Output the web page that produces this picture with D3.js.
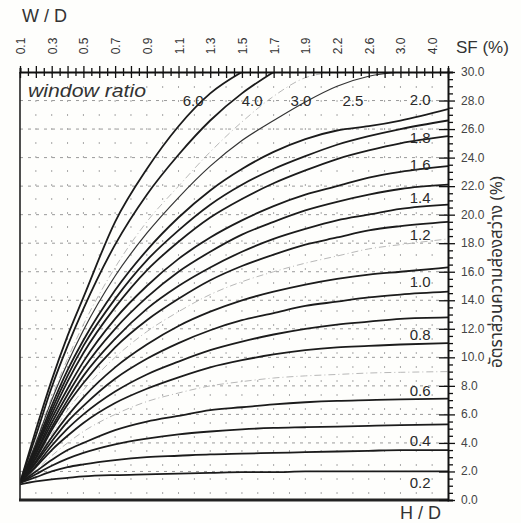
<!DOCTYPE html>
<html><head><meta charset="utf-8">
<script src="https://cdnjs.cloudflare.com/ajax/libs/d3/7.8.5/d3.min.js"></script>
<style>html,body{margin:0;padding:0;background:#fff;} svg{display:block;}</style>
</head><body><svg id="chart" width="521" height="523"></svg>
<script>
// H/D positions (in W/D tick-spacing units) at which each curve was read
const hdSteps = [0, 0.5, 1, 1.5, 2, 3, 4, 5, 6, 7, 8, 9, 10, 11, 12, 13.5];

// Window ratio curves: SF (%) values read at hdSteps
const ratio60 = [1.2, 4.9, 8.4, 11.5, 14.2, 19.5, 23.2, 26.2, 28.5, 30.0];
const ratio40 = [1.2, 4.5, 7.9, 10.8, 13.4, 17.9, 21.4, 24.2, 26.6, 28.5, 30.0];
const ratio30 = [1.2, 4.0, 7.0, 9.6, 11.9, 15.7, 18.7, 21.2, 23.4, 25.2, 26.6, 27.9, 29.0, 29.7, 30.0];
const curveL4 = [1.2, 3.8, 6.6, 9.1, 11.2, 14.7, 17.5, 19.8, 21.7, 23.2, 24.4, 25.3, 25.9, 26.2, 26.6, 27.4];
const curveL5 = [1.2, 3.6, 6.3, 8.7, 10.8, 14.1, 16.8, 18.9, 20.7, 22.1, 23.2, 24.1, 24.9, 25.5, 26.0, 26.6];
const curveL6 = [1.2, 3.5, 6.0, 8.3, 10.3, 13.5, 16.1, 18.1, 19.8, 21.1, 22.2, 23.1, 23.9, 24.5, 25.0, 25.5];
const curveL7 = [1.2, 3.3, 5.7, 7.8, 9.7, 12.7, 15.0, 16.9, 18.4, 19.6, 20.6, 21.4, 22.0, 22.6, 23.0, 23.4];
const curveL8 = [1.2, 3.2, 5.4, 7.4, 9.2, 12.0, 14.2, 16.0, 17.4, 18.6, 19.5, 20.3, 20.9, 21.4, 21.8, 22.1];
const curveL9 = [1.2, 3.0, 5.1, 7.0, 8.7, 11.3, 13.4, 15.0, 16.3, 17.4, 18.3, 19.0, 19.6, 20.0, 20.4, 20.7];
const curveL10 = [1.2, 2.9, 4.9, 6.7, 8.2, 10.7, 12.6, 14.1, 15.4, 16.4, 17.2, 17.9, 18.4, 18.9, 19.2, 19.5];
const curveL11 = [1.2, 2.7, 4.4, 5.9, 7.2, 9.3, 10.9, 12.2, 13.2, 14.0, 14.6, 15.1, 15.5, 15.8, 16.0, 16.3];
const curveL12 = [1.2, 2.6, 4.1, 5.5, 6.6, 8.5, 9.9, 11.0, 11.9, 12.6, 13.1, 13.6, 13.9, 14.2, 14.4, 14.6];
const curveL13 = [1.2, 2.4, 3.8, 5.0, 6.0, 7.6, 8.8, 9.7, 10.5, 11.1, 11.6, 12.0, 12.3, 12.5, 12.7, 12.8];
const curveL14 = [1.2, 2.3, 3.5, 4.5, 5.4, 6.8, 7.8, 8.6, 9.3, 9.8, 10.2, 10.5, 10.7, 10.8, 10.9, 11.0];
const curveL15 = [1.2, 2.0, 2.8, 3.5, 4.0, 4.9, 5.5, 5.9, 6.3, 6.5, 6.7, 6.85, 6.95, 7.0, 7.05, 7.1];
const curveL16 = [1.2, 1.8, 2.4, 2.9, 3.3, 3.9, 4.3, 4.6, 4.8, 4.95, 5.05, 5.1, 5.15, 5.2, 5.25, 5.3];
const curveL17 = [1.2, 1.6, 2.0, 2.3, 2.5, 2.8, 3.0, 3.1, 3.2, 3.25, 3.3, 3.35, 3.4, 3.45, 3.5, 3.5];
const curveL18 = [1.1, 1.3, 1.45, 1.55, 1.65, 1.75, 1.8, 1.85, 1.9, 1.95, 1.95, 2.0, 2.0, 2.0, 2.0, 2.0];

// Faint dash-dot guide curves
const guideA = [1.2, 4.1, 7.2, 9.9, 12.3, 16.3, 19.5, 22.0, 24.4, 26.5, 28.3, 29.6, 30.0];
const guideB = [1.2, 2.8, 4.6, 6.3, 7.7, 10.0, 11.8, 13.2, 14.4, 15.3, 16.0, 16.6, 17.1, 17.6, 17.9, 18.3];
const guideC = [1.2, 2.1, 3.1, 4.0, 4.8, 6.0, 6.9, 7.5, 8.0, 8.3, 8.55, 8.7, 8.8, 8.9, 8.95, 9.0];

// Axis tick labels
const wdLabels = ["0.1","0.3","0.5","0.7","0.9","1.1","1.3","1.5","1.7","1.9","2.2","2.6","3.0","4.0"];
const sfTicks = [0,2,4,6,8,10,12,14,16,18,20,22,24,26,28,30];

// Window ratio annotations (text, H/D position, SF value)
const ratioText = ["6.0","4.0","3.0","2.5","2.0","1.8","1.6","1.4","1.2","1.0","0.8","0.6","0.4","0.2"];
const ratioAtHD = [5.46, 7.32, 8.86, 10.5, 12.62, 12.62, 12.62, 12.62, 12.62, 12.62, 12.62, 12.62, 12.62, 12.62];
const ratioAtSF = [28.0, 28.0, 28.0, 28.0, 28.1, 25.4, 23.5, 21.2, 18.6, 15.3, 11.6, 7.7, 4.2, 1.26];

const thickCurves = [ratio60, ratio40, curveL4, curveL5, curveL6, curveL7, curveL8, curveL9, curveL10,
  curveL11, curveL12, curveL13, curveL14, curveL15, curveL16, curveL17, curveL18];
const thinCurves = [ratio30];
const guides = [guideA, guideB, guideC];

const svg = d3.select("#chart");
svg.append("rect").attr("width",521).attr("height",523).attr("fill","#fefefc");

const x = d3.scaleLinear().domain([0, 13.5]).range([20, 448]);
const y = d3.scaleLinear().domain([0, 30]).range([500, 72]);

svg.append("defs").append("clipPath").attr("id","plot")
  .append("rect").attr("x",20).attr("y",72).attr("width",428).attr("height",428);

// grid
const grid = svg.append("g");
grid.selectAll("line.h").data(d3.range(2, 30, 2)).join("line")
  .attr("x1", x(0)).attr("x2", x(13.5)).attr("y1", d=>y(d)).attr("y2", d=>y(d))
  .attr("stroke","#9a9a9a").attr("stroke-width",1).attr("stroke-dasharray","3,5");
grid.selectAll("line.v").data(d3.range(0.5, 13.5, 0.5)).join("line")
  .attr("x1", d=>x(d)).attr("x2", d=>x(d)).attr("y1", y(30)).attr("y2", y(0))
  .attr("stroke","#a8a8a8").attr("stroke-width",1).attr("stroke-dasharray","2,12");

const line = d3.line().x((d,i)=>x(hdSteps[i])).y(d=>y(d)).curve(d3.curveMonotoneX);
const curves = svg.append("g").attr("clip-path","url(#plot)").attr("fill","none");
curves.selectAll("path.g").data(guides).join("path")
  .attr("d", line).attr("stroke","#b0b0b0").attr("stroke-width",0.9).attr("stroke-dasharray","7,3,1,3");
curves.selectAll("path.t").data(thinCurves).join("path")
  .attr("d", line).attr("stroke","#333").attr("stroke-width",1.2);
curves.selectAll("path.k").data(thickCurves).join("path")
  .attr("d", line).attr("stroke","#1b1b1b").attr("stroke-width",1.8);

// axes frame
svg.append("line").attr("x1",x(0)).attr("x2",x(0)).attr("y1",y(30)).attr("y2",y(0)).attr("stroke","#222").attr("stroke-width",1.6);
svg.append("line").attr("x1",x(0)-1).attr("x2",x(13.5)+1).attr("y1",y(0)).attr("y2",y(0)).attr("stroke","#222").attr("stroke-width",3);

// top axis (W/D)
const topAxis = d3.axisTop(x).tickValues(d3.range(0, 13.75, 0.25)).tickSize(4).tickFormat("");
const gTop = svg.append("g").attr("transform",`translate(0,${y(30)})`).call(topAxis);
gTop.select(".domain").attr("stroke","#111").attr("stroke-width",2);
gTop.selectAll(".tick line").attr("stroke","#111").attr("stroke-width",1.3)
  .attr("y1", d => (d % 1 === 0 || d % 1 === 0.5) ? 6 : 4)
  .attr("y2", d => (d % 1 === 0.5 || d % 1 === 0) ? -6 : -4);
svg.append("g").selectAll("text").data(wdLabels).join("text")
  .attr("transform",(d,i)=>`translate(${x(i)+1},46) rotate(-90)`)
  .attr("text-anchor","middle").attr("dominant-baseline","central")
  .attr("font-family","Liberation Sans, Arial, sans-serif").attr("font-size",12).attr("fill","#333")
  .text(d=>d);

// right axis (SF %)
const rightAxis = d3.axisRight(y).tickValues(d3.range(0, 30.5, 0.5)).tickSize(5).tickFormat("");
const gR = svg.append("g").attr("transform",`translate(${x(13.5)},0)`).call(rightAxis);
gR.select(".domain").attr("stroke","#111").attr("stroke-width",2);
gR.selectAll(".tick line").attr("stroke","#111").attr("stroke-width",1.3)
  .attr("x1", d => d % 2 === 0 ? -9 : 0).attr("x2", d => d % 2 === 0 ? 7 : 5);
svg.append("g").selectAll("text").data(sfTicks).join("text")
  .attr("x", 461).attr("y", d=>y(d)).attr("dominant-baseline","central")
  .attr("font-family","Liberation Sans, Arial, sans-serif").attr("font-size",12).attr("fill","#444")
  .text(d=>d.toFixed(1));

// titles
const font = "Liberation Sans, Arial, sans-serif";
svg.append("text").attr("x",22).attr("y",22).attr("font-family",font).attr("font-size",18).attr("fill","#333").text("W / D");
svg.append("text").attr("x",456).attr("y",53).attr("font-family",font).attr("font-size",17).attr("fill","#333").text("SF (%)");
svg.append("text").attr("x",400).attr("y",519).attr("font-family",font).attr("font-size",18).attr("fill","#333").text("H / D");
svg.append("text").attr("x",28).attr("y",97).attr("font-family",font).attr("font-style","italic")
  .attr("font-size",18).attr("fill","#333").attr("textLength",118).attr("lengthAdjust","spacingAndGlyphs").text("window ratio");
svg.append("text").attr("transform","translate(497,272) rotate(-90)").attr("text-anchor","middle")
  .attr("dominant-baseline","central").attr("font-family","Noto Sans Thai, Noto Sans, DejaVu Sans, sans-serif")
  .attr("font-size",17).attr("fill","#333").text("อัตราส่วนความส่องสว่าง (%)");

// window ratio labels
svg.append("g").selectAll("text").data(ratioText).join("text")
  .attr("x",(d,i)=>x(ratioAtHD[i])).attr("y",(d,i)=>y(ratioAtSF[i]))
  .attr("text-anchor","middle").attr("dominant-baseline","central")
  .attr("font-family",font).attr("font-size",15).attr("fill","#2a2a2a").text(d=>d);
</script></body></html>
